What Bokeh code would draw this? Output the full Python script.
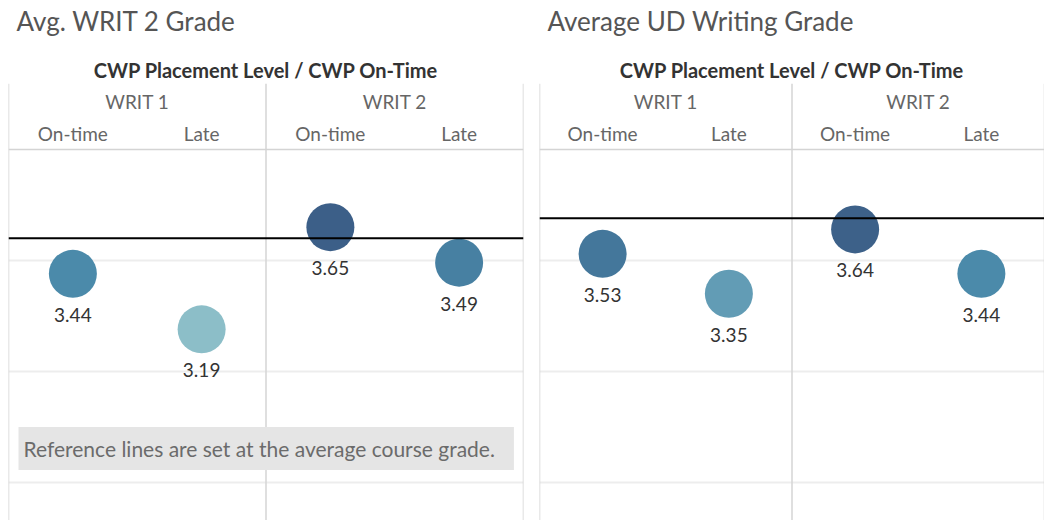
from bokeh.plotting import figure
from bokeh.models import (ColumnDataSource, FactorRange, Range1d, Span, Grid,
                          FixedTicker, Title, Label)
from bokeh.layouts import row
from bokeh.transform import linear_cmap
from bokeh.core.properties import value
from bokeh.embed import file_html
from bokeh.resources import INLINE

# ---------------- data ----------------
PANEL_TITLES = ["Avg. WRIT 2 Grade", "Average UD Writing Grade"]
SUBTITLE = "CWP Placement Level / CWP On-Time"
PLACEMENT = ["WRIT 1", "WRIT 2"]
TIMING = ["On-time", "Late"]
WRIT2_GRADE = [3.44, 3.19, 3.65, 3.49]
UD_GRADE = [3.53, 3.35, 3.64, 3.44]
AVG_COURSE_GRADE = [3.60, 3.69]
NOTE = "Reference lines are set at the average course grade."
GRADE_TICKS = [2.5, 3.0, 3.5]
GRADE_MAX = 4.0

# ---------------- style ----------------
FONT = "Lato"
GRID = "#ededed"
BORDER = "#d4d4d4"


def ramp(stops, n=256):
    def hx(c):
        return [int(c[i:i + 2], 16) for i in (1, 3, 5)]
    out = []
    for i in range(n):
        t = i / (n - 1)
        for (t0, c0), (t1, c1) in zip(stops, stops[1:]):
            if t0 <= t <= t1:
                f = (t - t0) / (t1 - t0) if t1 > t0 else 0
                a, b = hx(c0), hx(c1)
                out.append("#%02x%02x%02x" % tuple(round(x + (y - x) * f) for x, y in zip(a, b)))
                break
    return out


PALETTE = ramp([(0.0, "#8cbec8"), (0.54, "#4b8aaa"), (1.0, "#3c5f88")])
all_grades = WRIT2_GRADE + UD_GRADE
LOW, HIGH = min(all_grades), max(all_grades)


def panel(title, grades, avg, width, pad_left, pad_right, note=None):
    factors = [(g, t) for g in PLACEMENT for t in TIMING]
    src = ColumnDataSource(dict(cat=factors, grade=grades,
                                label=["%.2f" % v for v in grades]))
    p = figure(width=width, height=520,
               x_range=FactorRange(*factors, factor_padding=0, group_padding=0,
                                   subgroup_padding=0, range_padding=0),
               y_range=Range1d(2.329, 4.297),
               x_axis_type=None, y_axis_type=None,
               toolbar_location=None, output_backend="svg",
               min_border_left=pad_left, min_border_right=pad_right,
               min_border_top=0, min_border_bottom=0,
               outline_line_color=None, background_fill_color="white",
               border_fill_color="white")

    # titles (subtitle closest to the plot, then a small gap, then the title)
    p.add_layout(Title(text=SUBTITLE, align="center", text_font=FONT,
                       text_font_size="20px", text_font_style="bold",
                       text_color="#333333", standoff=4), "above")
    p.add_layout(Title(text=" ", text_font_size="1px", standoff=8), "above")
    p.title.text = title
    p.title.align = "left"
    p.title.vertical_align = "top"
    p.title.offset = 8
    p.title.standoff = 8
    p.title.text_font = FONT
    p.title.text_font_size = "26px"
    p.title.text_font_style = "normal"
    p.title.text_color = "#555555"

    # grid and borders
    p.add_layout(Grid(dimension=1, ticker=FixedTicker(ticks=GRADE_TICKS),
                      grid_line_color=GRID, grid_line_width=2))
    p.add_layout(Span(location=GRADE_MAX, dimension="width",
                      line_color=BORDER, line_width=1.5))
    for loc in (0, len(TIMING), len(factors)):
        p.add_layout(Span(location=loc, dimension="height",
                          line_color=BORDER, line_width=1.5))

    # header labels
    p.text(x=PLACEMENT, y=[GRADE_MAX] * len(PLACEMENT), text=PLACEMENT,
           y_offset=-48, text_align="center", text_baseline="middle",
           text_font=value(FONT), text_font_size="19px", text_color="#666666")
    p.text(x=factors, y=[GRADE_MAX] * len(factors), text=[f[1] for f in factors],
           y_offset=-16, text_align="center", text_baseline="middle",
           text_font=value(FONT), text_font_size="19px", text_color="#666666")

    # marks
    p.scatter(x="cat", y="grade", source=src, size=48, line_color=None,
              fill_color=linear_cmap("grade", PALETTE, LOW, HIGH))
    p.text(x="cat", y="grade", text="label", source=src, y_offset=41,
           text_align="center", text_baseline="middle",
           text_font=value(FONT), text_font_size="19px", text_color="#333333")

    # reference line (average course grade)
    p.add_layout(Span(location=avg, dimension="width",
                      line_color="black", line_width=2))

    if note:
        p.add_layout(Label(x=10, y=72, x_units="screen", y_units="screen",
                           text=note, text_align="left", text_baseline="middle",
                           text_font=FONT, text_font_size="21px",
                           text_color="#6b6b6b",
                           background_fill_color="#e5e5e5",
                           padding=dict(left=5, right=19, top=9, bottom=9)))
    return p


p1 = panel(PANEL_TITLES[0], WRIT2_GRADE, AVG_COURSE_GRADE[0], 531, 8, 8, NOTE)
p2 = panel(PANEL_TITLES[1], UD_GRADE, AVG_COURSE_GRADE[1], 513, 8, 0)
layout = row(p1, p2)

open("out.html", "w").write(file_html(layout, INLINE))
